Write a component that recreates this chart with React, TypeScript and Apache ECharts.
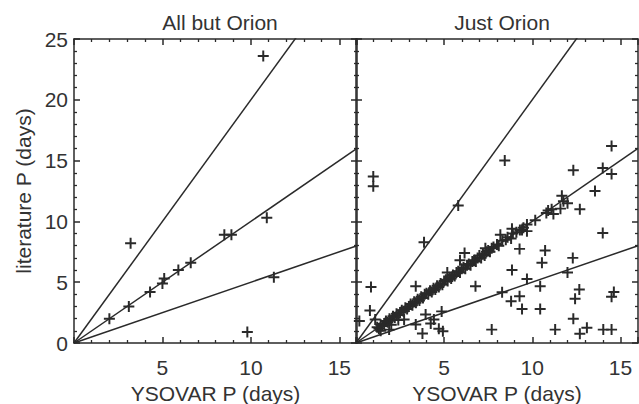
import React, { useEffect, useRef } from "react";
import * as echarts from "echarts";

const panelTitles = ["All but Orion", "Just Orion"];
const xName = "YSOVAR P (days)";
const yName = "literature P (days)";
const slopes = [2, 1, 0.5];

const leftPoints: [number, number][] = [
  [2.0, 2.0], [3.1, 3.0], [3.2, 8.2], [4.3, 4.2], [5.0, 4.9], [5.1, 5.3],
  [5.9, 6.0], [6.6, 6.6], [8.5, 8.9], [8.9, 8.9], [10.9, 10.3], [11.3, 5.4],
  [10.7, 23.6], [9.8, 0.9],
];

const rightOutliers: [number, number][] = [
  [0.98, 13.7], [0.98, 12.9], [0.85, 4.6], [0.79, 2.67], [0.19, 1.8], [1.09, 1.93],
  [3.86, 8.28], [5.8, 11.3], [8.44, 15.0], [3.39, 4.67], [6.78, 4.67], [12.33, 14.2],
  [14.5, 16.2], [14.0, 14.4], [14.5, 13.9], [13.56, 12.5], [12.7, 11.0], [14.0, 9.05],
  [12.3, 7.0], [10.73, 7.6], [10.55, 6.6], [8.85, 6.0], [9.7, 5.27], [10.45, 4.67],
  [12.0, 5.8], [12.67, 4.4], [12.43, 3.63], [8.29, 4.17], [9.28, 3.85], [8.8, 3.43],
  [9.42, 2.8], [10.45, 2.8], [14.63, 4.2], [14.5, 3.8], [12.33, 2.0], [7.7, 1.1],
  [11.3, 1.1], [12.7, 0.76], [13.1, 1.25], [14.03, 1.1], [14.5, 1.1], [3.77, 0.78],
  [4.7, 1.17], [4.93, 0.97], [3.39, 1.52], [3.95, 2.34], [4.42, 1.93], [4.24, 1.6],
  [4.86, 2.6], [2.73, 1.93], [1.88, 1.1], [6.16, 7.4], [5.9, 6.8], [7.34, 7.8],
  [9.28, 7.74], [8.19, 8.9], [8.85, 9.4], [5.18, 5.8], [2.0, 1.5], [2.4, 1.9], [1.4, 1.0],
];

const rightCluster: [number, number][] = [
  [1.2, 1.3], [1.3, 1.2], [1.4, 1.5], [1.5, 1.4], [1.6, 1.6], [1.7, 1.8], [1.8, 1.7],
  [1.9, 2.0], [2.0, 1.9], [2.1, 2.2], [2.2, 2.1], [2.3, 2.4], [2.4, 2.3], [2.5, 2.5],
  [2.6, 2.7], [2.7, 2.6], [2.8, 2.9], [2.9, 2.8], [3.0, 3.0], [3.1, 3.2], [3.2, 3.1],
  [3.3, 3.4], [3.4, 3.3], [3.5, 3.6], [3.6, 3.5], [3.7, 3.8], [3.8, 3.7], [3.9, 4.0],
  [4.0, 4.1], [4.1, 4.0], [4.2, 4.3], [4.3, 4.2], [4.4, 4.5], [4.5, 4.4], [4.6, 4.7],
  [4.7, 4.6], [4.8, 4.9], [4.9, 4.8], [5.0, 5.1], [5.1, 5.2], [5.2, 5.1], [5.3, 5.4],
  [5.4, 5.3], [5.5, 5.6], [5.6, 5.5], [5.7, 5.8], [5.8, 5.9], [5.9, 5.8], [6.0, 6.1],
  [6.1, 6.2], [6.2, 6.1], [6.3, 6.4], [6.4, 6.5], [6.5, 6.4], [6.6, 6.7], [6.7, 6.8],
  [6.8, 6.7], [6.9, 7.0], [7.0, 7.2], [7.1, 7.0], [7.2, 7.3], [7.3, 7.2], [7.4, 7.5],
  [7.5, 7.6], [7.6, 7.5], [7.7, 7.8], [7.8, 7.9], [8.0, 8.1], [8.1, 8.0], [8.3, 8.4],
  [8.5, 8.5], [8.6, 8.7], [8.8, 8.6], [8.9, 9.0], [9.1, 9.1], [9.3, 9.3], [9.42, 9.3],
  [9.5, 9.47], [9.7, 9.74], [9.7, 9.2], [10.17, 10.1], [10.8, 10.7], [10.9, 10.9],
  [11.1, 11.0], [11.2, 10.6], [11.6, 11.05], [11.68, 12.1], [11.77, 11.65], [12.0, 11.5],
];

const X_MIN = 0, X_MAX = 16, Y_MIN = 0, Y_MAX = 25;

const INK = "#2a2a2a";
const FONT = "Liberation Sans, Arial, sans-serif";
const PLUS = "path://M4.1,0H5.9V4.1H10V5.9H5.9V10H4.1V5.9H0V4.1H4.1Z";

export default function App() {
  const ref = useRef<HTMLDivElement>(null);
  useEffect(() => {
    document.body.style.margin = "0";
    const chart = echarts.init(ref.current!, null, { renderer: "svg" });
    const grids = [
      { left: 74, top: 39, width: 283, height: 304, outerBoundsMode: "none", containLabel: false },
      { left: 356, top: 39, width: 282, height: 304, outerBoundsMode: "none", containLabel: false },
    ];
    const baseAxis = (type: "x" | "y", grid: number, labels: boolean, pos: string) => {
      const isX = type === "x";
      return {
        type: "value",
        gridIndex: grid,
        position: pos,
        min: isX ? X_MIN : Y_MIN,
        max: isX ? X_MAX : Y_MAX,
        interval: 5,
        axisLine: { show: true, onZero: false, lineStyle: { color: INK, width: 1.5 } },
        axisTick: { show: true, inside: true, length: 6, lineStyle: { color: INK, width: 1.5 } },
        minorTick: { show: true, splitNumber: 5, length: 3, lineStyle: { color: INK, width: 1.3 } },
        splitLine: { show: false },
        minorSplitLine: { show: false },
        axisLabel: {
          show: labels,
          color: "#333",
          fontSize: 21,
          fontFamily: FONT,
          margin: isX ? 14 : 6,
          showMinLabel: isX ? false : true,
          showMaxLabel: isX ? false : true,
        },
      } as any;
    };
    const xAxes: any[] = [];
    const yAxes: any[] = [];
    for (let g = 0; g < 2; g++) {
      xAxes.push({
        ...baseAxis("x", g, true, "bottom"),
        name: xName,
        nameLocation: "middle",
        nameGap: 35,
        nameTextStyle: { color: "#333", fontSize: 21, fontFamily: FONT },
      });
      yAxes.push(
        g === 0
          ? {
              ...baseAxis("y", g, true, "left"),
              name: yName,
              nameLocation: "middle",
              nameGap: 40,
              nameTextStyle: { color: "#333", fontSize: 21, fontFamily: FONT },
            }
          : baseAxis("y", g, false, "left")
      );
    }
    for (let g = 0; g < 2; g++) {
      xAxes.push(baseAxis("x", g, false, "top"));
      yAxes.push(baseAxis("y", g, false, "right"));
    }
    const series: any[] = [];
    for (let g = 0; g < 2; g++) {
      slopes.forEach((s) => {
        series.push({
          type: "line",
          xAxisIndex: g,
          yAxisIndex: g,
          data: [
            [X_MIN, X_MIN * s],
            [X_MAX, X_MAX * s],
          ],
          showSymbol: false,
          symbol: "none",
          clip: true,
          lineStyle: { color: INK, width: 1.5 },
          silent: true,
        });
      });
    }
    const scatterBase = {
      type: "scatter",
      symbol: PLUS,
      symbolSize: 11,
      itemStyle: { color: INK, opacity: 1 },
      clip: false,
    };
    series.push({ ...scatterBase, xAxisIndex: 0, yAxisIndex: 0, data: leftPoints });
    series.push({ ...scatterBase, xAxisIndex: 1, yAxisIndex: 1, data: rightCluster });
    series.push({ ...scatterBase, xAxisIndex: 1, yAxisIndex: 1, data: rightOutliers });

    const titleStyle = { color: "#333", fontSize: 21, fontWeight: "normal", fontFamily: FONT };
    chart.setOption({
      animation: false,
      backgroundColor: "#fff",
      title: [
        { text: panelTitles[0], left: 215, top: 7, textAlign: "center", textStyle: titleStyle },
        { text: panelTitles[1], left: 497, top: 7, textAlign: "center", textStyle: titleStyle },
      ],
      grid: grids,
      xAxis: xAxes,
      yAxis: yAxes,
      series,
    });
    return () => chart.dispose();
  }, []);
  return <div ref={ref} style={{ width: 639, height: 404 }} />;
}
